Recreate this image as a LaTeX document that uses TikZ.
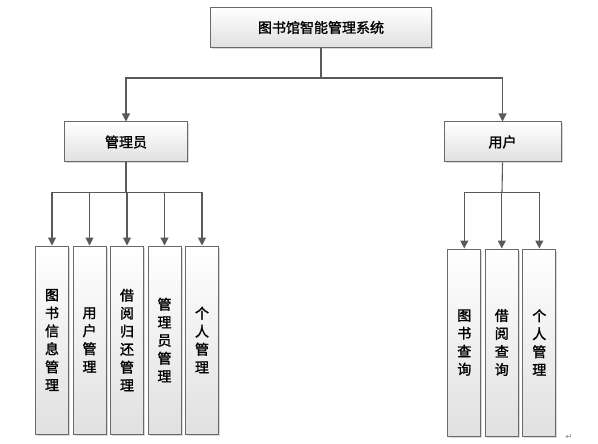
\documentclass[tikz,border=0pt]{standalone}
\usepackage{fontspec}
\newfontfamily\cjk{Noto Sans CJK SC}[FakeBold=1.5]
\newfontfamily\djv{DejaVu Sans}
\usetikzlibrary{arrows.meta,shadows}
\definecolor{linec}{HTML}{5A5A5A}
\definecolor{boxb}{HTML}{6A6A6A}
\begin{document}
\begin{tikzpicture}[x=1pt,y=-1pt,
  box/.style={draw=boxb, line width=1pt, top color=white, bottom color=black!12,
    inner sep=0pt, align=center, font=\cjk\fontsize{14}{18}\selectfont,
    drop shadow={shadow xshift=1.5pt, shadow yshift=-1.5pt, fill=black!25, opacity=0.6}},
  hbox/.style={box, minimum height=40pt},
  vbox/.style={box, minimum width=33pt},
  conn/.style={draw=linec, line width=1.1pt},
  arr/.style={conn, -{Triangle[width=8pt,length=8pt]}}]
\useasboundingbox (0,0) rectangle (598,444);
\node[hbox, minimum width=221pt] (top) at (321,27.5) {图书馆智能管理系统};
\node[hbox, minimum width=123pt] (adm) at (126,142) {管理员};
\node[hbox, minimum width=117pt] (usr) at (502.5,142) {用户};
\foreach \n/\x/\t in {a1/52/{图\\书\\信\\息\\管\\理}, a2/89.5/{用\\户\\管\\理}, a3/127/{借\\阅\\归\\还\\管\\理}, a4/164.5/{管\\理\\员\\管\\理}, a5/202/{个\\人\\管\\理}}
  \node[vbox, minimum height=188pt] (\n) at (\x,340) {\t};
\foreach \n/\x/\t in {u1/464.3/{图\\书\\查\\询}, u2/501.8/{借\\阅\\查\\询}, u3/539.3/{个\\人\\管\\理}}
  \node[vbox, minimum height=187pt] (\n) at (\x,342.5) {\t};
\coordinate (j0) at (321,78);
\coordinate (ja) at (126,192.7);
\coordinate (ju) at (502,192.7);
\draw[conn] (top.south) -- (j0);
\draw[arr] (j0) -| (adm.north);
\draw[arr] (j0) -| (usr.north);
\draw[conn] (adm.south) -- (ja);
\foreach \n in {a1,a2,a3,a4,a5} \draw[arr] (ja) -| (\n.north);
\draw[conn] (usr.south) -- (ju);
\foreach \n in {u1,u2,u3} \draw[arr] (ju) -| (\n.north);
\node[font=\djv\fontsize{8}{8}\selectfont, text=black!50, inner sep=0pt] (ret) at (569,437) {↵};
\end{tikzpicture}
\end{document}
